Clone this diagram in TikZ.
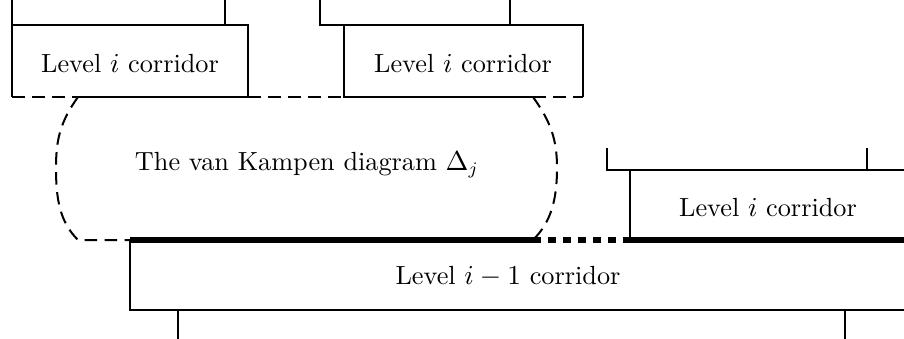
\documentclass[tikz,border=0pt]{standalone}
\begin{document}
\begin{tikzpicture}[x=0.4pt,y=-0.4pt,line join=miter,
  edge/.style={line width=0.8pt},
  bdash/.style={line width=0.8pt,dash pattern=on 5pt off 3pt},
  thickline/.style={line width=2.4pt},
  thickdash/.style={line width=2.4pt,dash pattern=on 3.2pt off 2.8pt},
  lbl/.style={inner sep=0pt,font=\fontsize{10.5}{12}\selectfont}]
\useasboundingbox (0,0) rectangle (904,339);
% box 1
\draw[edge] (12,0) -- (12,97);
\draw[edge] (12,25) -- (248,25) -- (248,97) -- (78,97);
\draw[edge] (225,0) -- (225,25);
\draw[bdash] (12,97) -- (78,97);
\draw[bdash] (248,97) -- (344,97);
\node[lbl] (c1) at (130,64) {Level $i$ corridor};
% box 2
\draw[edge] (320,0) -- (320,25) -- (583,25) -- (583,97);
\draw[edge] (510,0) -- (510,25);
\draw[edge] (344,25) -- (344,97) -- (533,97);
\draw[bdash] (533,97) -- (583,97);
\node[lbl] (c2) at (463,64) {Level $i$ corridor};
% van Kampen diagram
\draw[bdash] (78,97) .. controls (60,122) and (56,140) .. (56,168)
  .. controls (56,200) and (60,222) .. (78,240) -- (130,240);
\draw[bdash] (533,97) .. controls (551,122) and (557,140) .. (557,168)
  .. controls (557,200) and (551,222) .. (533,240);
\node[lbl] (vk) at (307,165) {The van Kampen diagram $\Delta_j$};
% thick boundary
\draw[thickline] (130,240) -- (533,240);
\draw[thickdash] (533,240) -- (630,240);
\draw[thickline] (630,240) -- (904,240);
% right level i corridor
\draw[edge] (607,148) -- (607,170) -- (904,170);
\draw[edge] (867,148) -- (867,170);
\draw[edge] (630,170) -- (630,240);
\node[lbl] (c3) at (768,208) {Level $i$ corridor};
% level i-1 corridor
\draw[edge] (130,240) -- (130,310) -- (904,310);
\draw[edge] (178,310) -- (178,339);
\draw[edge] (845,310) -- (845,339);
\node[lbl] (c0) at (508,277) {Level $i-1$ corridor};
\end{tikzpicture}
\end{document}
